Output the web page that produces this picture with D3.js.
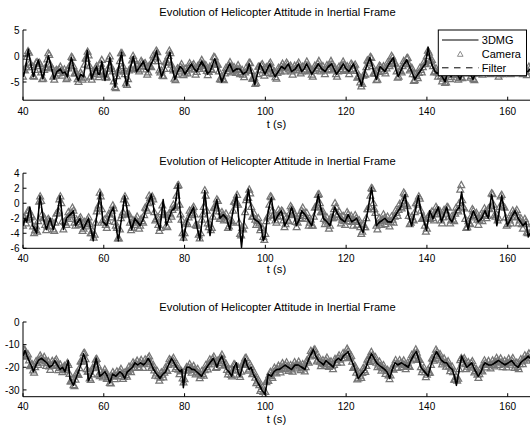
<!DOCTYPE html>
<html>
<head>
<meta charset="utf-8">
<script src="https://cdn.jsdelivr.net/npm/d3@7"></script>
<style>
  body { margin: 0; background: #fff; }
  svg { display: block; }
  text { font-family: Arial, "Liberation Sans", Helvetica, sans-serif; fill: #000; }
</style>
</head>
<body>
<svg id="chart" width="530" height="429"></svg>
<script>
// ---------------------------------------------------------------- data
const chartTitle = "Evolution of Helicopter Attitude in Inertial Frame";
const xLabel = "t (s)";
const seriesNames = ["3DMG", "Camera", "Filter"];
const xTicks = [40, 60, 80, 100, 120, 140, 160];
const yTicks1 = [-5, 0, 5];
const yTicks2 = [-6, -4, -2, 0, 2, 4];
const yTicks3 = [-30, -20, -10, 0];

// camera frames: the "a" arrays start at 40 s, the "b" arrays at 40.25 s,
// both with one frame every 0.5 s
const camStartA = 40;
const camStartB = 40.25;
const camStep = 0.5;

// panel 1
const t1 = [40,40.6,41.3,41.8,42.6,43.2,43.8,44.3,44.9,45.6,
  46.3,46.8,47.7,48.4,49.2,49.8,50.4,51,51.5,52,
  52.8,53.7,54.3,55,55.9,56.4,57,57.6,58.2,58.6,
  59,59.5,60.3,61,61.5,62.1,62.8,63.6,64.4,65,
  65.7,66.5,67.3,68.1,69,69.8,70.4,71,71.7,72.4,
  73.1,73.7,74.3,75.2,75.8,76.4,77,77.6,78.3,78.9,
  79.5,80.1,80.9,81.7,82.4,83,83.6,84.2,85,85.7,
  86.3,87,87.5,88.3,89.2,90.2,91.2,92,92.8,93.7,
  94.5,95.4,96,96.7,97.4,98,98.7,99.3,99.9,100.5,
  101.1,101.8,102.4,103.2,104,104.8,105.7,106.5,107.4,108.2,
  109,109.6,110.2,110.9,111.5,112.3,113.1,114,114.8,115.6,
  116.4,117,117.6,118.5,119.3,120,120.7,121.8,122.8,123.8,
  124.8,125.9,126.7,127.5,128.4,129,129.6,130.6,131.7,132.3,
  132.9,134,135,136,137,137.8,138.7,139.6,140.3,140.8,
  141.2,142,143.2,143.8,144.5,145.2,146,146.8,147.5,148.2,
  149,150,150.8,151.4,152.2,153,154,155,156,157,
  158,159,160,161,162,163,164,165,165.5];
const dmg1 = [-4,-2.5,1.3,-1,-4,-2,-0.8,-2.5,-4.4,-2,
  0,-1.5,-4.4,-3,-2.5,-3.3,-3.1,-4,-2,-0.3,
  -3,-4.7,-3.5,-4,1.1,-1.5,-4.4,-3,-2,-3.5,
  -3.5,-1,-4.7,-2.5,-0.3,-3,-6,-2.5,0.7,-3,
  -5.7,-2.5,-0.1,-3,-2,-1,-2.5,-3,-1.5,-0.5,
  1,-2,-4,-2,-0.5,0.7,-2.5,-4.5,-3,-2,
  -2.5,-3.5,-2.5,-1.5,-2.5,-3,-2,-1,-2,-3.3,
  -3,-1.5,-0.5,-2.5,-5,-3,-1.5,-3,-2.5,-2.5,
  -3.5,-3,-1.5,-3.5,-5.5,-3.5,-1.5,-2.5,-3.5,-2.5,
  -1.5,-3,-4,-3,-2,-2.5,-1.5,-3,-2.5,-1.5,
  -3,-2.5,-1.5,-2.5,-3.5,-2.5,-1.5,-2.5,-3,-2,
  -1.5,-2.5,-3.5,-2.5,-1.5,-2.5,-3,-1.5,-3.5,-5.7,
  -2.5,-0.3,-2.5,-4.5,-2,-2.5,-3,-1.5,-0.3,-2.5,
  -4,-2,-0.7,-2.5,-4.5,-3.5,-2.5,-1.5,1.7,-0.5,
  -1.5,-3,-3.5,-4,-5,-3,-4,-2.5,-3.5,-4.5,
  -3,-2.5,-3.5,-4.5,-3,-2.5,-3,-2,-3,-2.5,
  -3.5,-2.5,-2,-3,-2.5,-2,-3,-3,-2.5];
const filt1 = [-4,-2.6,1.1,-1.2,-3.9,-2.1,-0.9,-2.6,-4.3,-2.1,
  -0.2,-1.6,-4.3,-3.1,-2.5,-3.2,-3.1,-3.9,-2.1,-0.5,
  -3.1,-4.6,-3.6,-3.9,0.8,-1.6,-4.3,-3.1,-2.1,-3.4,
  -3.4,-1.2,-4.6,-2.6,-0.5,-3.1,-5.6,-2.6,0.5,-3.1,
  -5.5,-2.6,-0.3,-3,-2.1,-1.2,-2.5,-2.9,-1.6,-0.6,
  0.8,-2.1,-3.9,-2.1,-0.6,0.5,-2.6,-4.4,-3,-2.1,
  -2.5,-3.4,-2.6,-1.6,-2.5,-3,-2.1,-1.4,-2.4,-3.5,
  -3,-1.6,-0.7,-2.6,-4.8,-3,-1.6,-3,-2.5,-2.6,
  -3.4,-3,-1.6,-3.4,-5.3,-3.5,-1.6,-2.5,-3.4,-2.5,
  -1.6,-3,-3.9,-3,-2.1,-2.5,-1.6,-2.9,-2.5,-1.6,
  -2.9,-2.5,-1.6,-2.5,-3.4,-2.5,-1.6,-2.5,-2.9,-2.1,
  -1.6,-2.5,-3.4,-2.5,-1.6,-2.5,-2.9,-1.6,-3.4,-5.4,
  -2.6,-0.5,-2.6,-4.4,-2.1,-2.5,-2.9,-1.6,-0.5,-2.6,
  -3.9,-2.1,-0.9,-2.6,-4.4,-3.5,-2.5,-1.7,1.1,-0.8,
  -1.7,-3.2,-3.6,-4.2,-4.6,-3.3,-3.7,-2.9,-3.4,-4.2,
  -3.3,-2.7,-3.3,-4.2,-3.2,-2.6,-2.9,-2.2,-2.9,-2.6,
  -3.3,-2.6,-2.2,-2.9,-2.6,-2.2,-2.9,-2.9,-2.6];
const cam1a = [-4,-2.8,-0.2,0.6,-1.8,-3.9,-2.7,-1.2,-1.3,-3.2,
  -4.4,-2.3,-0.7,0.2,-2.2,-4,-3.8,-2.9,-2.6,-2.9,
  -3.2,-3.3,-4.2,-2,-0.2,-2,-3.4,-4.5,-4.1,-3.6,
  -4.2,-0.5,0.8,-2,-4.6,-3.2,-2.3,-3.1,-3.6,-0.8,
  -3.5,-4.2,-2.5,-0.1,-2.5,-4.9,-6.2,-3,-1,0.5,
  -3,-5.3,-4.5,-2.5,-0.9,-0.6,-2.6,-2.6,-2,-1.3,
  -1.5,-2.6,-3.2,-2,-1,-0.2,1,-1,-3.2,-3.8,
  -2.5,-1.2,0,0.5,-2.5,-4.4,-3.6,-2.6,-2.1,-2.5,
  -3.4,-3,-2.3,-1.8,-1.9,-2.6,-3.1,-2.2,-1.3,-1.6,
  -2,-2.9,-3.1,-2.5,-1.5,-0.3,-1.7,-3,-4.6,-4.5,
  -3.4,-2.5,-1.8,-2,-3,-2.7,-2.5,-2.5,-3.1,-3.6,
  -3.2,-2.8,-1.3,-2.9,-4.4,-5.4,-3.5,-2.1,-1.8,-2.8,
  -3.3,-2.5,-1.6,-2.3,-3.3,-4.1,-3.3,-2.6,-2,-2.3,
  -2.3,-1.6,-2.2,-3,-2.7,-2.4,-1.7,-2.3,-3,-2.6,
  -1.7,-1.9,-2.7,-3.6,-2.9,-2.3,-1.5,-2,-2.5,-2.8,
  -2.8,-2.1,-1.7,-1.6,-2.5,-3.5,-3,-2.5,-1.8,-1.7,
  -2.5,-2.9,-2.6,-1.8,-1.9,-2.9,-4.1,-5.1,-5.4,-3.5,
  -2.2,-1,-0.2,-2,-3.4,-4.7,-3.1,-2.1,-2.5,-2.9,
  -2.4,-1.6,-1,-0.3,-1.4,-3,-4,-2.9,-2,-1.3,
  -0.5,-1.6,-2.5,-3.5,-4.7,-3.9,-3.3,-2.7,-2.2,-1.6,
  0,0.6,-1,-2,-3,-3.2,-3.4,-3.9,-4.4,-5.2,
  -3.6,-3.4,-4.1,-3.1,-2.8,-3.5,-4.3,-4.1,-3,-2.8,
  -2.5,-3.1,-3.9,-4.5,-3.4,-2.8,-2.5,-2.8,-3,-2.5,
  -2,-2.5,-3,-2.8,-2.5,-3,-3.5,-3,-2.5,-2.2,
  -2,-2.5,-3,-2.8,-2.5,-2.2,-2,-2.5,-3,-3,
  -3,-2.5];
const cam1b = [-2.7,-2.2,0.9,-1.3,-2.2,-4,-1.3,-2,-1.6,-4.5,
  -2.7,-2.2,0.5,-1.7,-2.4,-4.6,-2.7,-3.4,-2.1,-3.8,
  -2.6,-4.5,-2.4,-1.8,-0.4,-3.4,-3.3,-5,-3.2,-4.6,
  -1.7,-0.6,0.1,-4,-3.2,-3.5,-2,-4.1,-1.5,-2.9,
  -3.2,-4.1,-0.6,-2,-3,-6,-3.9,-2.7,0.5,-2,
  -3.5,-5.6,-2.8,-2.4,0,-2.3,-1.9,-3,-1,-2.1,
  -1.4,-3.6,-1.9,-2.2,0.1,-0.3,0.7,-2.8,-2.8,-3.9,
  -1.2,-1.3,1,-1.7,-2.8,-4.7,-2.4,-3,-1.6,-3.7,
  -2.5,-3.4,-1.4,-2.6,-1.6,-3.6,-2,-2.5,-0.8,-2.5,
  -1.8,-3.7,-2.1,-2.7,-0.2,-1.7,-1.7,-4.5,-3.9,-4.7,
  -2.3,-2.9,-1.2,-3.2,-2.2,-3.3,-1.8,-3.5,-2.7,-4.1,
  -2.3,-2.8,-1.4,-4.4,-4.2,-5.2,-2.1,-2.7,-1.6,-3.8,
  -2.2,-2.8,-1.3,-3.5,-3,-4.4,-2.3,-3,-1.5,-3,
  -1.3,-2.6,-1.9,-3.6,-1.9,-2.8,-1.3,-3.4,-2.1,-2.9,
  -1.1,-3,-2.5,-4,-1.9,-2.6,-1,-3,-2,-3.5,
  -1.8,-2.6,-1,-2.8,-2.3,-4,-2.1,-2.9,-1.1,-2.8,
  -2,-3.5,-1.5,-2.6,-1.7,-4.2,-3.9,-5.9,-3.8,-3.6,
  -0.9,-1.3,-0.4,-3.4,-3.4,-4.6,-1.9,-3,-2,-3.4,
  -1.3,-2,0,-1.6,-1.5,-4.2,-2.8,-3.2,-1,-1.6,
  -0.4,-2.8,-2.3,-4.8,-3.6,-4.3,-2.3,-3.2,-1.2,-1.5,
  1,-0.9,-0.8,-3.2,-2.4,-4,-3,-4.9,-4.1,-5.1,
  -2.8,-4.5,-2.9,-3.7,-2.5,-4.6,-3.5,-4.3,-2.2,-3.4,
  -2.1,-4.2,-3.5,-4.7,-2.4,-3.4,-2,-3.6,-2.1,-3,
  -1.6,-3.5,-2.2,-3.4,-2.1,-4,-2.6,-3.5,-1.7,-2.8,
  -1.6,-3.5,-2.2,-3.4,-1.7,-2.8,-1.6,-3.5,-2.3,-3.7,
  -2.1];

// panel 2
const t2 = [40,40.5,40.9,41.7,42.4,43.4,44.2,45,45.8,46.7,
  47.5,48.3,49.2,50,50.8,51.6,52.5,53,54.1,54.9,
  56.2,57.4,58.3,59.1,59.8,60.7,61.5,62.4,63,63.6,
  64.4,65.2,66,66.9,67.7,68.3,69,69.8,70.6,71.8,
  72.6,73.9,74.7,75.5,76.8,77.6,78.4,78.9,79.7,80.5,
  81.3,82.2,83,83.8,84.4,85,85.6,86.3,87.1,88,
  88.8,89.6,90.4,91.2,92,92.9,93.4,94.1,94.9,95.8,
  96.5,97.1,98.3,98.9,99.5,99.9,100.7,101.5,102.3,103.2,
  104,104.8,105.7,106.5,107.3,107.7,108.5,109,109.8,110.4,
  111.5,112.3,113.1,113.7,114.4,115.3,116,117.2,118,118.6,
  119.7,120.5,121.4,122.6,123.4,124.2,125.2,126.3,126.8,127.5,
  128.3,129.6,130.3,131.2,132.3,133.5,134.6,135.4,136.2,137.1,
  137.9,138.5,139.9,140.7,141.5,142.8,143.6,144.9,145.6,146.2,
  147.3,148,148.6,149.3,150.2,150.8,151.5,152.7,153.5,154.4,
  155.2,156,156.8,157.3,158.5,159.2,159.9,160.8,161.8,162.6,
  163.8,164.5,165.1,165.5];
const dmg2 = [-3,-2,-2.5,-0.5,-3,-4,1,-2,-3.5,-2,
  -3.5,-2,1,-3.5,-2,-1.5,-1,-3,-2,-3.5,
  -2,-5,-1.5,1.5,-2.5,-3,-1.5,-0.5,-3,-5,
  -2,1,-1.5,-3.5,-2,-2.5,-3,-2,-0.5,1.2,
  -1.5,-3.5,0.5,-3,-1,-0.5,2.6,-1,-5,-2.5,
  -1.5,-0.5,-3,-4.9,-2,1.7,-1.5,-4.3,-1.5,0.5,
  -2,-1.5,-2,-3.5,-1,1.2,-2,-5.9,-1.5,1.9,
  -0.5,-2,-2.5,-3,-5,-4.5,-1,0.8,-2.5,-1.5,
  -1,-3,-2,-0.5,-2,-3,-2,-1,-1.5,-2,
  -3,-1,1.2,-0.5,-2,-2.5,-3,-0.5,-1.5,-2,
  -2.5,-1.5,-2.5,-2,-3,-3.9,-1.5,2.1,0,-3,
  -2.5,-2,-2.5,-2.5,-1.5,-0.5,1.2,-1.5,-3,-1,
  1,-1,-3.6,-1,-2,-0.5,-2.5,-0.5,-2,-2.5,
  -1,-0.5,1.5,-1.5,-3.5,-2,-1,-2.5,-2,-1,
  -2,1.2,-1,-3,1,-1,-3,-2,-1,-2,
  -3,-2.5,-4.5,-4];
const filt2 = [-2.9,-2.1,-2.4,-0.7,-2.9,-3.8,0.7,-2.1,-3.4,-2.1,
  -3.4,-2.1,0.8,-3.3,-2.1,-1.6,-1.2,-2.9,-2.1,-3.4,
  -2.1,-4.7,-1.7,1.2,-2.4,-2.9,-1.6,-0.7,-2.9,-4.7,
  -2.1,0.8,-1.6,-3.4,-2.1,-2.4,-2.9,-2.1,-0.7,1,
  -1.6,-3.4,0.3,-2.9,-1.1,-0.7,2.2,-1.2,-4.6,-2.6,
  -1.6,-0.7,-2.9,-4.6,-2.1,1.4,-1.6,-4.1,-1.6,0.3,
  -2.1,-1.6,-2.1,-3.4,-1.1,1,-2.1,-5.4,-1.7,1.6,
  -0.7,-2.1,-2.5,-2.9,-4.7,-4.4,-1.2,0.6,-2.4,-1.6,
  -1.1,-2.9,-2.1,-0.7,-2.1,-2.9,-2.1,-1.1,-1.6,-2.1,
  -2.9,-1.1,1,-0.7,-2.1,-2.5,-2.9,-0.7,-1.6,-2.1,
  -2.5,-1.6,-2.4,-2.1,-2.9,-3.7,-1.6,1.8,-0.2,-2.9,
  -2.5,-2.1,-2.4,-2.5,-1.6,-0.7,1,-1.6,-2.9,-1.1,
  0.8,-1.2,-3.4,-1.1,-2.1,-0.7,-2.4,-0.7,-2.1,-2.4,
  -1.1,-0.7,1.2,-1.6,-3.3,-2.1,-1.1,-2.4,-2.1,-1.1,
  -2.1,1,-1.1,-2.9,0.8,-1.1,-2.9,-2.1,-1.1,-2.1,
  -2.9,-2.6,-4.2,-4];
const cam2a = [-3,-2,-2.2,-1,-1.6,-3.1,-3.6,-3.8,0.2,0.3,
  -2,-2.9,-3.1,-2.3,-2.6,-3.5,-2.6,-1.3,0.5,0,
  -3.5,-2.6,-1.9,-1.6,-1.3,-1,-3,-2.5,-2.1,-2.8,
  -3.4,-2.8,-2.2,-2.8,-4,-4.6,-2.6,-0.7,1.4,-0.8,
  -2.6,-2.9,-2.4,-1.5,-1,-0.7,-3,-4.7,-3.5,-1.6,
  0.5,0,-1.5,-2.6,-3.3,-2.4,-2.2,-2.6,-3,-2.4,
  -1.6,-0.7,0,0.7,0.9,-1.2,-2.1,-2.9,-3.3,-0.3,
  -1.4,-3,-2.2,-1.5,-0.9,-0.6,1,2.4,-1.5,-4,
  -4,-2.5,-1.9,-1.3,-0.7,-1.5,-3,-4.2,-4,-1.5,
  1.7,-1,-3.2,-3.6,-1.8,-0.6,0.5,-1.1,-1.9,-1.6,
  -1.8,-2.2,-3.1,-2.6,-1,0.2,1.1,-2.6,-4.3,-3.5,
  -1.2,0.8,1.8,-0.5,-1.8,-2.2,-2.4,-2.7,-3.3,-4.5,
  -4.1,-1.9,-0.2,0.8,-1.6,-2.3,-1.7,-1.3,-1,-2.3,
  -2.8,-2.2,-1.4,-0.6,-1.4,-2.5,-2.6,-2,-1,-1.3,
  -1.7,-2.1,-2.6,-3,-1.8,-0.5,1.1,0,-1.2,-2.1,
  -2.3,-2.6,-3,-2,-0.8,-0.5,-1.5,-1.9,-2.2,-2.4,
  -2.1,-1.5,-2,-2.5,-2.3,-2,-2.5,-3.2,-3.8,-3.2,
  -2,-0.8,1,1.9,-0.8,-3,-2.7,-2.4,-2.2,-2,
  -2.3,-2.5,-2.5,-2.2,-1.8,-1.3,-0.9,-0.5,0.3,1.2,
  -0.2,-1.7,-2.6,-2.2,-1.2,0,0.9,-1,-2,-3,
  -3.4,-1.6,-1.4,-2,-1.4,-0.8,-1,-2.3,-1.9,-1.1,
  -0.5,-1.8,-2.3,-2.2,-1.4,-0.9,0,2.4,-0.5,-2.1,
  -3.2,-2.7,-1.7,-1,-1.6,-2.2,-2.3,-2,-1.5,-1.1,
  -1.7,-0.8,1.3,-0.2,-1.8,-2.3,-0.5,1.1,-0.5,-1.9,
  -2.8,-2.3,-1.8,-1.3,-1.2,-1.8,-2.3,-2.8,-2.8,-2.5,
  -4,-4];
const cam2b = [-1.9,-2.7,-1,-1.9,-1.8,-4,-3.1,-2.4,0.9,-1.5,
  -1.9,-3.6,-2.1,-3.1,-2.5,-3.7,-1.4,-1,0.9,-2.4,
  -2.5,-2.9,-1.2,-2.1,-0.6,-2.6,-2.2,-2.9,-1.9,-3.7,
  -2.5,-3.1,-1.9,-4,-3.7,-4.2,-1.1,-0.3,0.9,-2.3,
  -2.2,-3.3,-1.4,-1.9,-0.3,-2.5,-3.3,-4.7,-2,-1.2,
  0.9,-1.4,-1.5,-3.6,-2.3,-2.9,-1.8,-3.4,-2.1,-2.6,
  -0.6,-1,1,0.2,0.5,-2.3,-1.9,-3.7,-1.2,-1.5,
  -1.6,-3.2,-1.3,-1.8,-0.2,-0.4,2.3,-0.2,-2.2,-4.6,
  -2.7,-2.8,-1,-1.6,-0.5,-2.9,-3,-4.7,-2.2,-0.5,
  1,-2.7,-2.8,-3.3,-0.6,-0.7,0.3,-2.1,-1.2,-2.3,
  -1.4,-3.3,-2.3,-2.4,0.2,0,-0.2,-4.1,-3.3,-3,
  0.4,0.7,1.3,-1.8,-1.4,-2.9,-2,-3.6,-3.3,-4.9,
  -2.4,-1.7,0.9,-1,-1.4,-2.6,-0.9,-1.8,-1.1,-3.2,
  -1.9,-2.4,-0.4,-1.6,-1.4,-3.2,-1.7,-2.1,-0.6,-2.1,
  -1.3,-3,-2.2,-3,-0.6,-0.3,1.2,-1.2,-1.1,-2.8,
  -1.9,-3.4,-1.9,-2,0,-1.6,-1.1,-2.7,-1.7,-2.9,
  -1.2,-2.4,-1.7,-3,-1.6,-2.9,-2.3,-4.1,-2.9,-3.2,
  -0.8,-0.5,2,0,-1.3,-3.5,-2,-2.9,-1.5,-2.8,
  -1.8,-3.1,-1.8,-2.6,-1,-1.7,-0.1,-0.7,1.4,-0.1,
  -0.4,-2.8,-1.8,-2.3,0,-0.2,0.6,-2.1,-1.9,-3.8,
  -1.9,-2.1,-1.1,-2.3,-0.5,-1.5,-1.1,-2.7,-0.9,-1.4,
  -0.6,-2.7,-1.7,-2.4,-0.6,-1.1,1.8,0.4,-0.7,-3.3,
  -2.4,-2.8,-0.8,-1.9,-1.3,-2.9,-1.6,-2.4,-0.7,-2,
  -0.7,-0.4,1.2,-1.6,-1.5,-2,0.9,-0.3,-0.6,-3,
  -2,-2.7,-1,-1.9,-0.9,-2.7,-2,-3.4,-2.1,-3.9,
  -3.4];

// panel 3
const t3 = [40,40.5,41,41.7,42.2,42.6,43.2,43.8,44.6,45.2,
  45.9,46.6,47.3,47.9,48.5,49.2,49.8,50.4,51.2,51.6,
  52.5,53.1,53.7,54.3,55,55.8,56.2,56.8,57.3,58.1,
  58.6,59,59.7,60.3,60.9,61.5,62.2,63,64,64.6,
  65.2,65.8,66.5,67.1,67.7,68.4,69.1,69.8,70.4,71,
  71.6,72.3,73.1,73.9,74.6,75.3,76,76.8,77.4,78,
  78.9,79.3,79.7,80.1,80.5,81.2,81.8,82.4,83,83.6,
  84.2,84.8,85.5,86.3,87.1,87.6,88,88.6,89.2,89.8,
  90.4,91,91.7,92.2,92.8,93.2,93.7,94.3,95,95.5,
  96,96.5,97,97.6,98.2,99.1,99.9,100.3,100.7,101.5,
  102.1,102.8,103.5,104.2,104.9,105.7,106.5,107.3,108.2,109,
  109.8,110.8,111.9,112.5,113.1,113.8,114.4,115,115.6,116.2,
  116.8,117.4,118.1,118.7,119.3,120,120.5,121.1,121.8,122.4,
  123,123.8,124.7,125.5,126.3,126.9,127.5,128.1,128.8,129.5,
  130.1,130.8,131.4,132.1,132.8,133.7,134.5,135.4,136,136.6,
  137.4,137.9,138.5,139.4,140.3,141,141.6,142.4,143,143.6,
  144.3,144.9,145.6,146.3,146.8,147.3,147.9,148.6,149.3,149.9,
  150.5,151.1,151.8,152.7,153.4,154,154.4,155.2,156,156.8,
  157.7,158.5,159.3,160.2,161,161.8,162.6,163.2,163.8,164.5,
  165.1,165.5];
const dmg3 = [-15,-12.5,-15,-18,-20,-22,-19,-17,-16,-17,
  -18,-20,-19,-17,-19,-21,-20,-22,-17,-25,
  -28,-25,-22,-19,-14,-18,-26,-24,-22,-16,
  -20,-24,-23,-22,-24,-27,-23,-24,-22,-23,
  -25,-22,-21,-20,-18,-19,-18,-19,-18,-16,
  -18,-21,-23,-25,-23,-22,-19,-16,-18,-20,
  -22,-21,-29,-24,-20,-20,-21,-21,-22,-23,
  -24,-22,-20,-18,-16,-18,-20,-17,-15,-18,
  -21,-22,-24,-20,-18,-22,-24,-20,-16,-19,
  -21,-20,-23,-25,-27,-30,-32,-28,-23,-24,
  -22,-21,-21,-20,-19,-20,-21,-19,-19,-20,
  -21,-16,-12,-15,-17,-18,-19,-17,-18,-19,
  -20,-17,-16,-17,-15,-14,-13,-16,-19,-22,
  -25,-23,-21,-17,-14,-16,-18,-19,-20,-21,
  -22,-25,-21,-18,-19,-18,-19,-20,-17,-15,
  -13,-16,-20,-22,-24,-19,-16,-13,-15,-17,
  -18,-18,-20,-21,-24,-28,-22,-15,-18,-20,
  -19,-18,-21,-24,-22,-19,-18,-19,-19,-18,
  -17,-18,-19,-18,-17,-19,-20,-18,-17,-16,
  -15,-16];
const filt3 = [-15,-13,-15.2,-17.8,-19.8,-21.5,-19.2,-17.2,-16.2,-17,
  -18,-19.8,-19,-17.3,-19,-20.7,-20.2,-21.6,-17.5,-24.5,
  -27.4,-25,-22.2,-19.2,-14.5,-18.2,-25.5,-24,-22,-16.5,
  -20,-23.6,-23,-22.2,-23.8,-26.5,-23.2,-23.8,-22.2,-23,
  -24.6,-22.2,-21,-20,-18.2,-19,-18.2,-18.8,-18,-16.3,
  -18,-20.8,-22.8,-24.6,-23.2,-22,-19.2,-16.3,-18,-19.8,
  -21.8,-21.2,-28,-24,-20.3,-20,-20.8,-21,-21.8,-23,
  -23.8,-22.2,-20.2,-18.2,-16.3,-18,-19.7,-17.3,-15.4,-18,
  -20.8,-22,-23.6,-20.2,-18.3,-21.8,-23.7,-20.2,-16.4,-19,
  -20.8,-20.2,-22.8,-24.8,-26.7,-29.6,-31.4,-28,-23.4,-23.8,
  -22,-21,-20.8,-20,-19.2,-20,-20.8,-19.2,-19,-19.8,
  -20.8,-16.4,-12.5,-15,-16.8,-18,-18.8,-17.2,-18,-18.8,
  -19.8,-17.2,-16,-16.8,-15.2,-14.2,-13.5,-16,-18.8,-21.8,
  -24.6,-23,-21,-17.3,-14.5,-16,-17.8,-19,-19.8,-20.8,
  -21.8,-24.5,-21.2,-18.2,-18.8,-18.2,-18.8,-19.8,-17.2,-15.3,
  -13.5,-16,-19.7,-21.8,-23.6,-19.2,-16.2,-13.5,-15,-16.8,
  -17.8,-18,-19.8,-21,-23.6,-27.3,-22.2,-15.5,-17.8,-19.8,
  -19,-18.2,-20.8,-23.6,-22,-19.2,-18.2,-18.8,-19,-18.2,
  -17.2,-18,-18.8,-18,-17.2,-18.8,-19.8,-18.2,-17.2,-16.2,
  -15.4,-16];
const cam3a = [-15,-12.5,-15,-17,-19,-21.5,-20,-18,-16.8,-16.1,
  -16.7,-17.4,-18.3,-19.7,-19.4,-18.4,-17.3,-19,-20.4,-20.5,
  -20.7,-21.4,-18.2,-23,-26.3,-28,-25.5,-23,-20.5,-17.6,
  -14,-16.5,-22,-25,-23.2,-20.5,-16.7,-19.2,-24,-23.3,
  -22.5,-22.7,-24.5,-27,-24.1,-23.4,-24,-23,-22,-22.8,
  -24.3,-23.5,-21.7,-21,-20.2,-18.7,-18.6,-18.9,-18.1,-18.6,
  -18.7,-17.7,-16,-17.7,-19.7,-21.5,-22.8,-24,-24.7,-23.3,
  -22.4,-21.1,-19,-17.1,-16.7,-18.3,-20,-21.1,-21.8,-25,
  -25.3,-20,-20,-20.5,-21,-21.2,-22,-22.8,-23.7,-23,
  -21.4,-20,-18.8,-17.5,-16.3,-17.6,-20,-17.5,-15.7,-16.5,
  -19,-21.2,-22,-23.4,-21.6,-19,-20,-23.3,-22,-18.9,
  -16,-19,-21,-20,-23,-24.7,-26.3,-28,-29.7,-31,
  -31,-25.5,-23.4,-24,-22.3,-21.4,-21,-21,-20.3,-19.5,
  -19.1,-19.8,-20.4,-21,-19.8,-19,-19,-19.4,-20,-20.6,
  -20,-17.5,-15.3,-13.5,-12.5,-15,-16.7,-17.6,-18.3,-18.7,
  -17,-17.8,-18.7,-19.5,-19,-16.9,-16.1,-16.7,-16,-14.7,
  -14,-13,-15.5,-17.6,-20,-22.5,-25,-23.8,-22.6,-21.4,
  -19.5,-17,-15.1,-14.7,-16.3,-18,-18.8,-19.6,-20.3,-21,
  -21.8,-23.7,-23.7,-20.6,-18.4,-18.6,-18.8,-18.2,-18.4,-19,
  -19.6,-19.5,-17,-15.3,-14,-13.6,-16.7,-20,-21.1,-22.2,
  -23.3,-22.6,-19,-16.5,-14.5,-13.3,-15,-16.7,-17.6,-18,
  -18.3,-19.7,-20.6,-22.2,-25.6,-26,-20.9,-16,-16.7,-18.7,
  -19.8,-19,-18.2,-19.7,-21.7,-23.3,-23.1,-21.5,-19,-18.1,
  -18.8,-19,-19,-18.4,-17.8,-17.2,-17.6,-18,-18.7,-18.8,
  -18.2,-17.6,-17,-18.2,-19.2,-19.9,-18.7,-17.5,-16.7,-16,
  -15.2,-16];
const cam3b = [-12.2,-15.4,-14.4,-19.6,-18.7,-22.4,-17.4,-19,-14.9,-18,
  -15.5,-19.5,-17.4,-21.2,-17.3,-19.5,-16.6,-21.3,-18.9,-22.2,
  -19.5,-21.4,-19,-26.3,-25.6,-28.4,-22.7,-23.4,-17.5,-17.4,
  -13.7,-20.9,-21.9,-25.7,-20.3,-20.2,-16.4,-23.2,-22,-24.5,
  -21,-25.2,-24.2,-27.2,-22.2,-25.3,-21.9,-24.1,-20.8,-25.2,
  -22.3,-24.2,-19.8,-22.2,-17.9,-20.3,-17.2,-20.1,-16.8,-20.3,
  -16.6,-18.5,-15.3,-20.3,-19,-23.8,-21.8,-26,-22.4,-24.5,
  -20.2,-21.7,-16.5,-18.5,-15.9,-20.8,-19,-23.1,-21.8,-26.8,
  -21.1,-21.6,-18.7,-22.4,-19.5,-23.2,-20.8,-24.9,-21.8,-23.8,
  -19.1,-21,-16.6,-18.5,-15.4,-20.4,-17.2,-18.2,-14.5,-19.4,
  -18.5,-23.2,-21.1,-24.1,-18.7,-21.1,-20,-24.3,-18.9,-19,
  -15.9,-21.6,-18.9,-23.1,-22.3,-27.1,-25.6,-30.5,-28.8,-32.6,
  -26.7,-26.1,-22.1,-24.8,-20.3,-22.8,-19.4,-22.3,-18.3,-20.9,
  -17.9,-21.7,-19.1,-22,-17.8,-20.6,-17.6,-21.3,-18.7,-21.9,
  -17.2,-18,-12.8,-14.6,-12.2,-17.5,-15.6,-19.6,-16.9,-19.5,
  -15.8,-19.9,-17.5,-20.9,-16.4,-18.1,-14.8,-18,-13.8,-16,
  -11.9,-15.9,-15,-20.4,-19.7,-25.4,-22.8,-24.8,-20.4,-22.1,
  -16.7,-17.7,-13.3,-17.1,-15.6,-20,-17.6,-21.6,-19.1,-23,
  -21.2,-25.3,-20.6,-21.1,-16.9,-20.3,-16.9,-19.9,-17.1,-20.9,
  -18,-19.9,-14.6,-16.3,-12.2,-16.8,-16.8,-22.2,-20.1,-24.4,
  -21.4,-22.4,-16.2,-17.1,-12.3,-15.8,-14.3,-18.8,-16.2,-19.8,
  -17.4,-21.8,-19.8,-25.5,-24.2,-25.1,-16.9,-18,-16.1,-20.9,
  -17.8,-20.2,-17.4,-22.3,-20.9,-24.8,-20.7,-21.9,-17,-20.1,
  -17.3,-20.6,-17.1,-19.7,-15.9,-19,-16.2,-20,-17.2,-20.1,
  -16.3,-18.9,-16,-20.3,-18,-20.9,-16.5,-18.7,-14.8,-17.2,
  -14];

// ---------------------------------------------------------------- layout
const W = 530, H = 429;
const axisLeft = 23;
const x = d3.scaleLinear().domain([40, 160]).range([axisLeft, 507.7]);
const plotRight = 532;

const panels = [
  { top: 30,    bottom: 100.2, yDomain: [-8.5, 5], yTicks: yTicks1,
    t: t1, dmg: dmg1, filt: filt1, camA: cam1a, camB: cam1b,
    titleY: 16.3, tickLabelY: 115, xLabelY: 128.3, legend: true },
  { top: 173.2, bottom: 248.3, yDomain: [-6, 4],   yTicks: yTicks2,
    t: t2, dmg: dmg2, filt: filt2, camA: cam2a, camB: cam2b,
    titleY: 164.5, tickLabelY: 262, xLabelY: 272.8, legend: false },
  { top: 322,   bottom: 396.7, yDomain: [-33, 0],  yTicks: yTicks3,
    t: t3, dmg: dmg3, filt: filt3, camA: cam3a, camB: cam3b,
    titleY: 310.5, tickLabelY: 410.2, xLabelY: 422.7, legend: false }
];

const camColor = "#767676";
const triPath = "M0,-3.8L3.4,2.3L-3.4,2.3Z";

const svg = d3.select("#chart");
svg.append("rect").attr("width", W).attr("height", H).attr("fill", "#fff");
const defs = svg.append("defs");

panels.forEach((p, i) => {
  const y = d3.scaleLinear().domain(p.yDomain).range([p.bottom, p.top]);
  const g = svg.append("g");

  const clipId = "clip" + i;
  defs.append("clipPath").attr("id", clipId)
    .append("rect")
    .attr("x", axisLeft).attr("y", p.top)
    .attr("width", plotRight - axisLeft).attr("height", p.bottom - p.top);

  const plot = g.append("g").attr("clip-path", `url(#${clipId})`);

  // Camera frames: open grey triangles
  const camPts = p.camA.map((v, k) => [camStartA + k * camStep, v])
    .concat(p.camB.map((v, k) => [camStartB + k * camStep, v]))
    .sort((a, b) => a[0] - b[0]);
  plot.append("g")
    .selectAll("path")
    .data(camPts)
    .join("path")
    .attr("d", triPath)
    .attr("transform", d => `translate(${x(d[0])},${y(d[1])})`)
    .attr("fill", "none")
    .attr("stroke", camColor)
    .attr("stroke-width", 1.25);

  const line = d3.line().x(d => x(d[0])).y(d => y(d[1]));

  // 3DMG: solid black
  plot.append("path")
    .datum(p.t.map((tt, k) => [tt, p.dmg[k]]))
    .attr("d", line)
    .attr("fill", "none")
    .attr("stroke", "#000")
    .attr("stroke-width", 1.5)
    .attr("stroke-linejoin", "round");

  // Filter: dashed black
  plot.append("path")
    .datum(p.t.map((tt, k) => [tt, p.filt[k]]))
    .attr("d", line)
    .attr("fill", "none")
    .attr("stroke", "#000")
    .attr("stroke-width", 1.2)
    .attr("stroke-dasharray", "6,4");

  // axes lines (box off: left and bottom only)
  const axisStroke = "#000";
  g.append("line")
    .attr("x1", axisLeft).attr("x2", axisLeft)
    .attr("y1", p.top).attr("y2", p.bottom)
    .attr("stroke", axisStroke).attr("stroke-width", 1);
  g.append("line")
    .attr("x1", axisLeft).attr("x2", plotRight)
    .attr("y1", p.bottom).attr("y2", p.bottom)
    .attr("stroke", axisStroke).attr("stroke-width", 1);

  // x ticks point inward
  xTicks.forEach(v => {
    g.append("line")
      .attr("x1", x(v)).attr("x2", x(v))
      .attr("y1", p.bottom).attr("y2", p.bottom - 3.5)
      .attr("stroke", axisStroke).attr("stroke-width", 1);
    g.append("text")
      .attr("x", x(v)).attr("y", p.tickLabelY)
      .attr("text-anchor", "middle")
      .attr("font-size", 10)
      .text(String(v));
  });

  // y ticks point inward
  p.yTicks.forEach(v => {
    g.append("line")
      .attr("x1", axisLeft).attr("x2", axisLeft + 3.5)
      .attr("y1", y(v)).attr("y2", y(v))
      .attr("stroke", axisStroke).attr("stroke-width", 1);
    g.append("text")
      .attr("x", 19.5).attr("y", y(v) + 3.6)
      .attr("text-anchor", "end")
      .attr("font-size", 10)
      .text(String(v));
  });

  g.append("text")
    .attr("x", (axisLeft + plotRight) / 2).attr("y", p.titleY)
    .attr("text-anchor", "middle")
    .attr("font-size", 11.2)
    .text(chartTitle);

  g.append("text")
    .attr("x", (axisLeft + plotRight) / 2 - 1).attr("y", p.xLabelY)
    .attr("text-anchor", "middle")
    .attr("font-size", 11.2)
    .text(xLabel);

  if (p.legend) {
    const lg = g.append("g");
    lg.append("rect")
      .attr("x", 438.3).attr("y", 30)
      .attr("width", 88.2).attr("height", 45.7)
      .attr("fill", "#fff").attr("stroke", "#000").attr("stroke-width", 1);
    const rowY = [40, 54.3, 67.8];
    const x0 = 442, x1 = 478.5, xt = 481.8;
    lg.append("line").attr("x1", x0).attr("x2", x1)
      .attr("y1", rowY[0]).attr("y2", rowY[0])
      .attr("stroke", "#000").attr("stroke-width", 1);
    lg.append("path").attr("d", "M0,-3L2.8,2L-2.8,2Z")
      .attr("transform", `translate(${(x0 + x1) / 2},${rowY[1]})`)
      .attr("fill", "none").attr("stroke", "#808080").attr("stroke-width", 0.9);
    lg.append("line").attr("x1", x0).attr("x2", x1)
      .attr("y1", rowY[2]).attr("y2", rowY[2])
      .attr("stroke", "#000").attr("stroke-width", 1)
      .attr("stroke-dasharray", "6.5,5.5");
    seriesNames.forEach((name, k) => {
      lg.append("text")
        .attr("x", xt).attr("y", rowY[k] + 4)
        .attr("font-size", 11)
        .text(name);
    });
  }
});
</script>
</body>
</html>
